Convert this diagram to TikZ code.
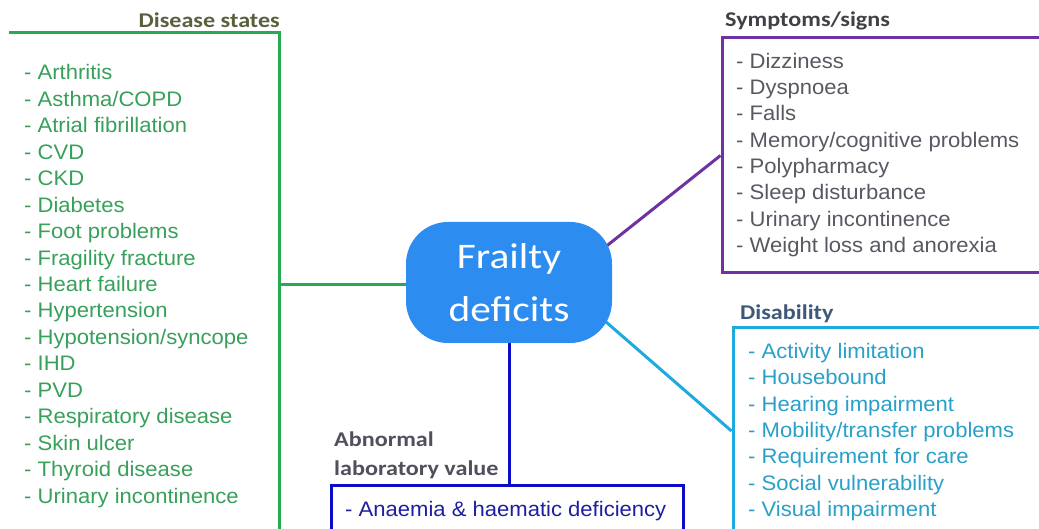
\documentclass[tikz,border=0pt]{standalone}
\usepackage{fontspec}
\newfontfamily\arialf{Liberation Sans}[FakeStretch=1.05]
\newfontfamily\calib{Carlito}[FakeStretch=1.15]
\usetikzlibrary{backgrounds,calc}

\definecolor{hubblue}{RGB}{45,140,240}
\definecolor{dsline}{RGB}{40,170,80}
\definecolor{dstext}{RGB}{55,160,90}
\definecolor{dshead}{RGB}{90,96,62}
\definecolor{ssline}{RGB}{112,50,160}
\definecolor{sstext}{RGB}{88,88,98}
\definecolor{sshead}{RGB}{64,64,70}
\definecolor{dbline}{RGB}{30,170,222}
\definecolor{dbtext}{RGB}{40,160,200}
\definecolor{dbhead}{RGB}{62,88,120}
\definecolor{lbline}{RGB}{12,12,200}
\definecolor{lbtext}{RGB}{30,30,160}
\definecolor{lbhead}{RGB}{80,80,92}

\tikzset{
  hub/.style={fill=hubblue, rounded corners=42pt, minimum width=206pt,
    minimum height=121pt, text=white, align=center,
    font=\calib\fontsize{36}{53}\selectfont},
  frame/.style={rectangle, inner sep=0pt, line width=3pt},
  head/.style={inner sep=0pt, font=\calib\bfseries\fontsize{21}{29}\selectfont},
  item/.style={inner sep=0pt, anchor=base west, font=\arialf\fontsize{21}{26}\selectfont},
  link/.style={line width=3pt}
}

\begin{document}
\begin{tikzpicture}[x=1pt, y=-1pt]
\useasboundingbox (0,0) rectangle (1039,529);
\clip (0,0) rectangle (1039,529);

% central topic
\node[hub] (fd) at (509,282.5) {Frailty\\deficits};

% category frames (they run off the page edges)
\node[frame, minimum width=268pt, minimum height=502pt] (ds) at (144,285) {};
\draw[dsline, line width=3pt] (ds.north west) -- (ds.north east) -- (ds.south east);
\node[frame, draw=ssline, minimum width=378pt, minimum height=235pt] (ss) at (911,155.5) {};
\node[frame, draw=dbline, minimum width=367pt, minimum height=206pt] (db) at (916.5,431) {};
\node[frame, draw=lbline, minimum width=352pt, minimum height=75pt] (lb) at (507,522.5) {};

% headings
\node[head, text=dshead, anchor=base east] (dsh) at (280,28) {Disease states};
\node[head, text=sshead, anchor=base west] (ssh) at (725,27) {Symptoms/signs};
\node[head, text=dbhead, anchor=base west] (dbh) at (740,320) {Disability};
\node[head, text=lbhead, anchor=base west, align=left] (lbh1) at (334,446) {Abnormal};
\node[head, text=lbhead, anchor=base west, align=left] (lbh2) at (334,475) {laboratory value};

% item lists
\foreach \t [count=\i from 0] in {Arthritis, {Asthma/COPD}, Atrial fibrillation, CVD, CKD,
    Diabetes, Foot problems, Fragility fracture, Heart failure, Hypertension,
    {Hypotension/syncope}, IHD, PVD, Respiratory disease, Skin ulcer,
    Thyroid disease, Urinary incontinence}
  \node[item, text=dstext] (dsi\i) at (24,{80+26.44*\i}) {- \t};

\foreach \t [count=\i from 0] in {Dizziness, Dyspnoea, Falls,
    {Memory/cognitive problems}, Polypharmacy, Sleep disturbance,
    Urinary incontinence, Weight loss and anorexia}
  \node[item, text=sstext] (ssi\i) at (736,{68.3+26.3*\i}) {- \t};

\foreach \t [count=\i from 0] in {Activity limitation, Housebound,
    Hearing impairment, {Mobility/transfer problems}, Requirement for care,
    Social vulnerability, Visual impairment}
  \node[item, text=dbtext] (dbi\i) at (748,{358.3+26.4*\i}) {- \t};

\node[item, text=lbtext] (lbi0) at (345,516.7) {- Anaemia \& haematic deficiency};

% connectors, drawn behind the central topic
\begin{scope}[on background layer]
  \coordinate (hubr) at ($(fd.center)!0.5!(fd.east)$);
  \draw[link, dsline] (ds.east) -- (ds.east -| fd.center);
  \draw[link, ssline] (hubr) -- (ss.west);
  \draw[link, dbline] (hubr) -- (db.west);
  \draw[link, lbline] (fd.center) -- (fd.center |- lb.north);
\end{scope}
\end{tikzpicture}
\end{document}
